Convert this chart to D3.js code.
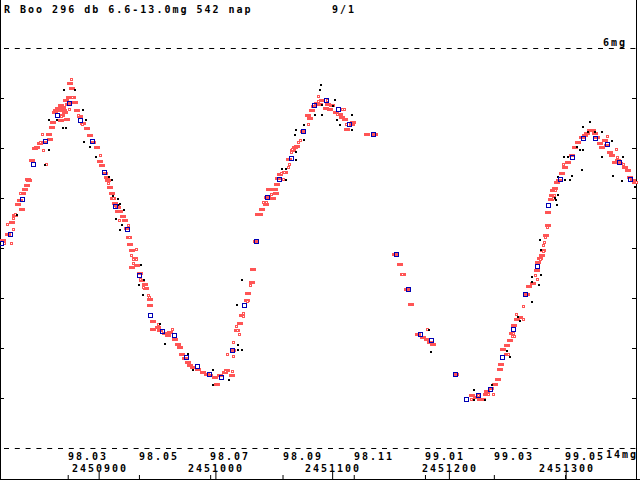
<!DOCTYPE html>
<html>
<head>
<meta charset="utf-8">
<script src="https://cdn.jsdelivr.net/npm/d3@7"></script>
<style>
  body { margin: 0; background: #fff; }
  svg { display: block; }
  text { font-family: "DejaVu Sans Mono", monospace; font-weight: bold; font-size: 10px; letter-spacing: 2px; fill: #000; }
</style>
</head>
<body>
<svg id="chart" width="640" height="480"></svg>
<script>
// R Boo light curve, JD given as JD - 2450000, magnitudes in mg
const JD0 = 2450000;
const title = 'R Boo 296 db 6.6-13.0mg 542 nap';
const pageLabel = '9/1';

const magTicks = [7, 8, 9, 10, 11, 12, 13];
const magLimits = [6, 14];
const magLabels = ['6mg', '14mg'];

const jdTicks = [2450900, 2451000, 2451100, 2451200, 2451300];
const monthTicks = [2450873.5, 2450934.5, 2450995.5, 2451057.5, 2451118.5, 2451179.5, 2451238.5, 2451299.5];
const monthLabels = ['98.03', '98.05', '98.07', '98.09', '98.11', '99.01', '99.03', '99.05'];

// visual estimates (filled red)
const visual = [
  [818.1, 9.84], [822.4, 9.72], [825.8, 9.48], [828.3, 9.34], [830.9, 9.12], [832.6, 9.04], [834.3, 9.22],
  [835.2, 8.90], [836.9, 8.82], [838.6, 8.74], [839.5, 8.62], [840.3, 8.64], [842.9, 8.24], [845.5, 8.00],
  [847.2, 7.98], [849.8, 7.90], [854.0, 7.88], [857.5, 7.72], [858.3, 7.82], [860.0, 7.58], [860.9, 7.48],
  [862.6, 7.28], [863.5, 7.24], [865.2, 7.20], [866.9, 7.24], [867.7, 7.14], [867.7, 7.44], [868.6, 7.34],
  [869.5, 7.18], [870.3, 7.24], [871.2, 7.28], [872.0, 7.04], [872.9, 7.42], [873.7, 7.12], [874.6, 6.98],
  [875.5, 6.70], [876.3, 7.08], [877.2, 6.80], [878.0, 6.98], [879.7, 7.08], [881.5, 7.24], [884.0, 7.36],
  [886.6, 7.50], [890.0, 7.60], [892.6, 7.74], [895.2, 7.88], [898.6, 7.98], [901.2, 8.26], [902.9, 8.34],
  [905.4, 8.50], [907.1, 8.58], [908.0, 8.64], [909.7, 8.78], [911.4, 8.90], [912.3, 9.00], [914.0, 9.10],
  [915.7, 9.14], [916.6, 9.18], [916.6, 9.26], [918.3, 9.26], [920.8, 9.36], [922.6, 9.44], [924.3, 9.60],
  [926.0, 9.78], [926.8, 9.92], [928.6, 10.04], [931.1, 10.20], [928.6, 10.38], [932.8, 10.34], [935.4, 10.50],
  [937.1, 10.64], [939.7, 10.72], [940.5, 10.80], [944.0, 11.02], [944.0, 11.14], [946.5, 11.46], [946.5, 11.62],
  [950.8, 11.58], [952.5, 11.64], [956.8, 11.70], [959.4, 11.74], [961.1, 11.68], [965.4, 11.82], [968.0, 11.92],
  [969.7, 11.98], [971.4, 12.12], [974.0, 12.20], [976.5, 12.28], [978.2, 12.34], [980.8, 12.38], [985.1, 12.42],
  [989.4, 12.48], [992.8, 12.52], [995.4, 12.54], [999.6, 12.58], [1001.4, 12.72], [1003.9, 12.54], [1008.2, 12.48],
  [1009.9, 12.44], [1014.2, 12.54], [1015.1, 12.04], [1018.5, 11.64], [1021.1, 11.50], [1022.8, 11.34],
  [1027.1, 11.04], [1027.9, 10.90], [1031.3, 10.68], [1032.2, 10.42], [1034.8, 9.86], [1036.5, 9.32],
  [1038.2, 9.32], [1039.9, 9.22], [1043.3, 9.12], [1045.0, 8.98], [1049.3, 9.00], [1045.9, 8.82], [1051.0, 8.82],
  [1051.9, 8.90], [1052.8, 8.72], [1053.6, 8.60], [1055.3, 8.52], [1059.6, 8.48], [1063.0, 8.22], [1066.5, 8.04],
  [1068.2, 7.98], [1069.9, 7.96], [1075.0, 7.66], [1079.3, 7.34], [1081.0, 7.40], [1082.7, 7.24], [1084.4, 7.16],
  [1087.0, 7.10], [1089.6, 7.12], [1091.3, 7.04], [1094.7, 7.20], [1096.4, 7.12], [1098.1, 7.22], [1099.9, 7.14],
  [1103.3, 7.28], [1106.7, 7.32], [1108.4, 7.38], [1111.0, 7.42], [1112.7, 7.62], [1117.0, 7.52], [1117.8, 7.48],
  [1129.8, 7.72], [1136.7, 7.72], [1153.8, 10.12], [1158.1, 10.32], [1160.7, 10.52], [1164.1, 10.82],
  [1167.5, 11.12], [1173.5, 11.72], [1177.8, 11.78], [1181.2, 11.82], [1183.8, 11.88], [1186.4, 11.92],
  [1206.1, 12.52], [1219.8, 12.94], [1223.2, 12.98], [1226.6, 13.02], [1231.8, 12.92], [1232.6, 12.86],
  [1236.0, 12.80], [1239.5, 12.72], [1242.0, 12.62], [1243.8, 12.42], [1244.6, 12.32], [1246.3, 12.02],
  [1249.7, 12.12], [1249.7, 11.94], [1252.3, 11.84], [1254.0, 11.70], [1255.7, 11.54], [1258.3, 11.42],
  [1260.9, 11.38], [1266.9, 10.92], [1268.6, 10.76], [1272.0, 10.70], [1275.4, 10.44], [1276.3, 10.28],
  [1278.0, 10.20], [1279.7, 10.14], [1280.6, 10.04], [1283.1, 9.74], [1284.9, 9.54], [1284.9, 9.28],
  [1287.4, 9.02], [1288.3, 8.94], [1289.1, 8.84], [1290.9, 8.80], [1292.6, 8.68], [1294.3, 8.64], [1296.9, 8.50],
  [1299.4, 8.38], [1302.0, 8.28], [1305.4, 8.14], [1308.0, 7.98], [1310.6, 7.88], [1314.0, 7.78], [1316.6, 7.74],
  [1318.3, 7.70], [1320.8, 7.64], [1323.4, 7.64], [1325.1, 7.70], [1326.8, 7.78], [1329.4, 7.90], [1331.1, 7.98],
  [1333.7, 7.84], [1335.4, 7.94], [1338.0, 8.08], [1339.7, 8.14], [1342.2, 8.28], [1344.8, 8.24], [1346.5, 8.30],
  [1350.8, 8.38], [1353.4, 8.44], [1355.1, 8.58], [1357.7, 8.64], [1359.4, 8.68]
];

// second observer group (hollow red)
const visual2 = [
  [818.9, 9.90], [821.5, 9.52], [824.9, 9.90], [826.6, 9.40], [826.6, 9.62], [828.3, 9.32], [832.6, 8.90],
  [849.8, 7.88], [851.5, 7.72], [852.3, 8.04], [854.9, 8.32], [867.7, 7.36], [874.6, 7.22], [876.3, 6.62],
  [877.2, 6.98], [882.3, 7.34], [885.7, 7.52], [901.2, 8.14], [908.0, 8.70], [912.3, 9.00], [917.4, 9.44],
  [925.1, 9.54], [926.0, 9.78], [927.7, 10.14], [929.4, 10.22], [932.0, 10.22], [929.4, 10.30], [932.0, 10.02],
  [935.4, 10.62], [938.0, 10.78], [942.3, 10.94], [943.1, 10.98], [950.8, 11.52], [962.8, 11.62],
  [1008.2, 12.46], [1014.2, 12.46], [1009.9, 12.12], [1015.1, 12.16], [1015.1, 11.88], [1017.6, 11.56],
  [1018.5, 11.64], [1020.2, 11.72], [1023.6, 11.36], [1023.6, 11.30], [1027.1, 11.06], [1029.6, 10.74],
  [1040.8, 9.08], [1042.5, 8.98], [1043.3, 9.08], [1047.6, 8.92], [1056.2, 8.50], [1057.9, 8.62], [1058.7, 8.48],
  [1062.2, 8.38], [1063.0, 8.32], [1064.7, 8.08], [1065.6, 8.02], [1070.7, 7.88], [1072.5, 7.84], [1079.3, 7.52],
  [1087.9, 6.96], [1087.9, 7.06], [1095.6, 7.04], [1104.1, 7.32], [1108.4, 7.22], [1110.1, 7.22], [1111.8, 7.52],
  [1159.8, 10.52], [1181.2, 11.62], [1218.9, 13.02], [1224.9, 12.94], [1230.0, 13.02], [1233.5, 12.92],
  [1237.8, 12.92], [1250.6, 12.12], [1254.0, 11.76], [1254.9, 11.70], [1255.7, 11.76], [1257.5, 11.32],
  [1263.4, 11.16], [1263.4, 11.42], [1273.7, 10.54], [1275.4, 10.62], [1278.0, 10.22], [1280.6, 9.94],
  [1280.6, 10.06], [1281.4, 9.88], [1282.3, 9.78], [1284.0, 9.58], [1289.1, 9.00], [1290.0, 8.94],
  [1290.9, 8.84], [1297.7, 8.32], [1335.4, 7.76], [1343.1, 8.02], [1344.0, 8.18], [1349.1, 8.32], [1360.2, 8.68]
];

// other observations (black)
const other = [
  [830.1, 9.34], [854.0, 8.34], [857.5, 7.44], [857.5, 8.04], [864.3, 7.44], [869.5, 7.60], [870.3, 6.84],
  [872.0, 7.60], [879.7, 6.84], [886.6, 7.24], [887.4, 7.88], [889.2, 7.44], [892.6, 7.98], [897.7, 8.18],
  [908.9, 8.58], [911.4, 8.64], [912.3, 8.96], [914.9, 9.42], [916.6, 9.02], [916.6, 9.14], [918.3, 9.12],
  [918.3, 9.64], [920.0, 9.54], [921.7, 9.24], [934.6, 10.74], [936.3, 10.34], [938.0, 10.94], [938.8, 10.64],
  [952.5, 11.52], [956.8, 11.92], [976.5, 12.12], [980.8, 12.44], [997.9, 12.44], [997.9, 12.74],
  [1011.6, 12.64], [1018.5, 11.14], [1019.3, 11.94], [1019.3, 12.04], [1022.8, 10.64], [1022.8, 12.04],
  [1057.0, 8.42], [1060.5, 8.42], [1060.5, 8.64], [1068.2, 7.74], [1069.0, 7.64], [1069.0, 8.08], [1069.0, 8.24],
  [1075.9, 7.54], [1075.9, 7.84], [1085.3, 7.34], [1089.6, 6.84], [1090.4, 6.74], [1091.3, 7.14], [1091.3, 7.34],
  [1100.7, 7.16], [1102.4, 7.04], [1104.1, 7.44], [1106.7, 7.54], [1117.0, 7.34], [1117.0, 7.64],
  [1182.9, 11.64], [1184.7, 12.08], [1221.5, 12.84], [1221.5, 13.04], [1230.9, 13.04], [1236.9, 12.74],
  [1249.7, 12.06], [1252.3, 12.18], [1259.2, 11.38], [1260.9, 11.46], [1271.2, 10.58], [1271.2, 10.68],
  [1271.2, 11.08], [1277.2, 10.74], [1278.0, 9.84], [1278.9, 10.04], [1278.9, 10.54], [1290.9, 9.00],
  [1291.7, 9.04], [1292.6, 9.14], [1293.4, 8.58], [1293.4, 8.94], [1298.6, 8.18], [1299.4, 8.64], [1302.0, 8.18],
  [1303.7, 8.64], [1305.4, 8.56], [1309.7, 7.98], [1312.3, 8.04], [1314.0, 8.44], [1314.8, 7.58], [1314.8, 8.04],
  [1319.1, 7.68], [1320.8, 7.48], [1325.1, 7.68], [1331.1, 7.68], [1331.1, 8.18], [1339.7, 7.86], [1340.5, 8.56],
  [1348.2, 8.66], [1349.1, 8.18], [1359.4, 8.78]
];

// 10-day means (blue)
const means = [
  [816.4, 9.90], [824.1, 9.72], [834.3, 9.02], [843.8, 8.32], [854.0, 7.86], [864.3, 7.34], [874.6, 7.10],
  [884.0, 7.44], [894.3, 7.86], [904.6, 8.48], [914.0, 9.16], [924.3, 9.62], [934.6, 10.54], [944.0, 11.34],
  [954.3, 11.66], [964.5, 11.74], [974.8, 12.18], [984.2, 12.36], [994.5, 12.52], [1004.8, 12.58],
  [1014.2, 12.04], [1024.5, 11.14], [1034.8, 9.86], [1044.2, 8.98], [1054.5, 8.62], [1064.7, 8.20],
  [1075.0, 7.66], [1084.4, 7.14], [1094.7, 7.04], [1105.0, 7.22], [1114.4, 7.52], [1135.0, 7.72],
  [1154.7, 10.12], [1165.0, 10.82], [1175.2, 11.72], [1184.7, 11.84], [1205.2, 12.52], [1214.6, 13.02],
  [1224.9, 12.94], [1235.2, 12.82], [1245.5, 12.18], [1254.9, 11.62], [1265.2, 10.92], [1275.4, 10.36],
  [1284.9, 9.14], [1295.1, 8.62], [1305.4, 8.18], [1314.8, 7.80], [1325.1, 7.80], [1335.4, 7.92],
  [1345.7, 8.28], [1355.1, 8.62]
];

const W = 640, H = 480;
const svg = d3.select('#chart');

const x = d3.scaleLinear().domain([2450815.5, 2451363.7]).range([0, W]);
const y = d3.scaleLinear().domain(magLimits).range([48, 448]);

const px = (d) => Math.round(x(JD0 + d[0]));
const py = (d) => Math.round(y(d[1]));

// frame
svg.append('line').attr('x1', 0.5).attr('x2', 0.5).attr('y1', 0).attr('y2', H).attr('stroke', '#000');
svg.append('line').attr('x1', 636.5).attr('x2', 636.5).attr('y1', 0).attr('y2', H).attr('stroke', '#000');

// dashed limit lines
svg.selectAll('line.limit')
  .data(magLimits)
  .enter()
  .append('line')
  .attr('class', 'limit')
  .attr('x1', 4).attr('x2', 636)
  .attr('y1', (d) => Math.round(y(d)) + 0.5)
  .attr('y2', (d) => Math.round(y(d)) + 0.5)
  .attr('stroke', '#000')
  .attr('stroke-dasharray', '5 5.8');

// magnitude ticks, left and right
svg.append('g')
  .call(d3.axisRight(y).tickValues(magTicks).tickSize(4).tickSizeOuter(0).tickFormat(''))
  .call((g) => g.select('.domain').remove());
svg.append('g')
  .attr('transform', 'translate(636,0)')
  .call(d3.axisLeft(y).tickValues(magTicks).tickSize(4).tickSizeOuter(0).tickFormat(''))
  .call((g) => g.select('.domain').remove());

// time axis at the bottom, ticks pointing up
svg.append('g')
  .attr('transform', 'translate(0,479)')
  .call(d3.axisTop(x).tickValues(jdTicks).tickSize(7).tickSizeOuter(0).tickFormat(''));
svg.append('g')
  .attr('transform', 'translate(0,479)')
  .call(d3.axisTop(x).tickValues(monthTicks).tickSize(4).tickSizeOuter(0).tickFormat(''))
  .call((g) => g.select('.domain').remove());

svg.selectAll('text.month')
  .data(monthTicks)
  .enter()
  .append('text')
  .attr('class', 'month')
  .attr('x', (d) => Math.round(x(d)))
  .attr('y', 460)
  .text((d, i) => monthLabels[i]);

svg.selectAll('text.jd')
  .data(jdTicks)
  .enter()
  .append('text')
  .attr('class', 'jd')
  .attr('x', (d) => Math.round(x(d)) + 1)
  .attr('y', 472)
  .attr('text-anchor', 'middle')
  .text((d) => d);

// title and labels
svg.append('text').attr('x', 4).attr('y', 13).text(title);
svg.append('text').attr('x', 332).attr('y', 13).text(pageLabel);
svg.append('text').attr('x', 603).attr('y', 46).text(magLabels[0]);
svg.append('text').attr('x', 606).attr('y', 458).text(magLabels[1]);

// observations
svg.append('g')
  .selectAll('rect')
  .data(visual)
  .enter()
  .append('rect')
  .attr('x', (d) => px(d) - 3)
  .attr('y', (d) => py(d) - 1)
  .attr('width', 6)
  .attr('height', 3)
  .attr('fill', '#ff5555')
  .attr('shape-rendering', 'crispEdges');

svg.append('g')
  .selectAll('rect')
  .data(visual2)
  .enter()
  .append('rect')
  .attr('x', (d) => px(d) - 0.5)
  .attr('y', (d) => py(d) - 0.5)
  .attr('width', 2)
  .attr('height', 2)
  .attr('fill', '#fff')
  .attr('stroke', '#ff5555')
  .attr('shape-rendering', 'crispEdges');

svg.append('g')
  .selectAll('rect')
  .data(other)
  .enter()
  .append('rect')
  .attr('x', (d) => px(d) - 1)
  .attr('y', (d) => py(d) - 1)
  .attr('width', 2)
  .attr('height', 2)
  .attr('fill', '#000')
  .attr('shape-rendering', 'crispEdges');

svg.append('g')
  .selectAll('rect')
  .data(means)
  .enter()
  .append('rect')
  .attr('x', (d) => px(d) - 1.5)
  .attr('y', (d) => py(d) - 1.5)
  .attr('width', 4)
  .attr('height', 4)
  .attr('fill', 'none')
  .attr('stroke', '#0000b4')
  .attr('shape-rendering', 'crispEdges');
</script>
</body>
</html>
